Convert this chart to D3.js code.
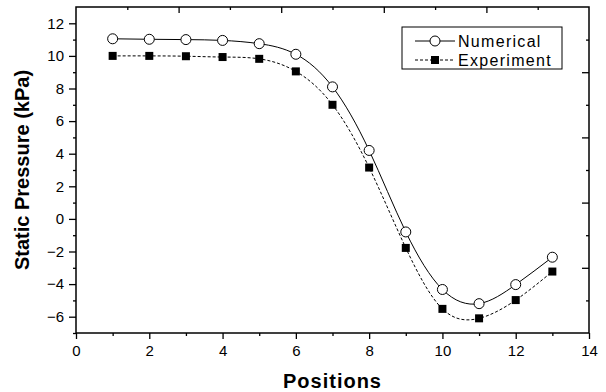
<!DOCTYPE html>
<html>
<head>
<meta charset="utf-8">
<script src="https://cdn.jsdelivr.net/npm/d3@7"></script>
<style>
  body { margin: 0; background: #fff; }
  text { font-family: 'Liberation Sans', Arial, sans-serif; fill: #000; }
</style>
</head>
<body>
<div id="chart"></div>
<script>
// data
const positions = [1, 2, 3, 4, 5, 6, 7, 8, 9, 10, 11, 12, 13]
const numerical = [11.05, 11.02, 11.0, 10.95, 10.75, 10.1, 8.1, 4.2, -0.8, -4.33, -5.2, -4.03, -2.35]
const experiment = [10.0, 10.0, 9.98, 9.93, 9.82, 9.05, 7.0, 3.15, -1.78, -5.52, -6.1, -4.98, -3.23]
const xTicks = [0, 2, 4, 6, 8, 10, 12, 14]
const yTicks = [-6, -4, -2, 0, 2, 4, 6, 8, 10, 12]

const margin = { top: 7, right: 17, bottom: 59, left: 76 }
const W = 606
const H = 392
const width = W - margin.left - margin.right
const height = H - margin.top - margin.bottom

const x = d3.scaleLinear().domain([0, 14]).range([0, width])
const y = d3.scaleLinear().domain([-7, 13]).range([height, 0])

const svg = d3.select('#chart').append('svg')
  .attr('width', W)
  .attr('height', H)

const g = svg.append('g')
  .attr('transform', 'translate(' + margin.left + ',' + margin.top + ')')

const strip = sel => { sel.select('.domain').remove(); sel.selectAll('line').attr('stroke', '#000').attr('stroke-width', 1.3) }

// bottom axis, major + minor
g.append('g')
  .attr('transform', 'translate(0,' + height + ')')
  .call(d3.axisBottom(x).tickValues(xTicks).tickSize(6).tickPadding(6).tickFormat(d3.format('d')))
  .call(strip)
  .call(a => a.selectAll('text').style('font-size', '15px').attr('font-family', null))
g.append('g')
  .attr('transform', 'translate(0,' + height + ')')
  .call(d3.axisBottom(x).tickValues(d3.range(1, 14, 2)).tickSize(3).tickFormat(''))
  .call(strip)

// left axis
g.append('g')
  .call(d3.axisLeft(y).tickValues(yTicks).tickSize(7).tickPadding(5).tickFormat(d3.format('d')))
  .call(strip)
  .call(a => a.selectAll('text').style('font-size', '15px').attr('font-family', null))
g.append('g')
  .call(d3.axisLeft(y).tickValues(d3.range(-7, 13, 2)).tickSize(3).tickFormat(''))
  .call(strip)

// top and right axes: inward ticks, own spacing
const topStep = 1.4
const topVals = d3.range(1, 10).map(i => i * topStep)
g.append('g')
  .call(d3.axisTop(x).tickValues(topVals.filter((d, i) => i % 2 === 1)).tickSize(-6).tickFormat(''))
  .call(strip)
g.append('g')
  .call(d3.axisTop(x).tickValues(topVals.filter((d, i) => i % 2 === 0)).tickSize(-3).tickFormat(''))
  .call(strip)

const rightVals = d3.range(1, 10).map(i => -7 + i * 2)
g.append('g')
  .attr('transform', 'translate(' + width + ',0)')
  .call(d3.axisRight(y).tickValues(rightVals.filter((d, i) => i % 2 === 1)).tickSize(-7).tickFormat(''))
  .call(strip)
g.append('g')
  .attr('transform', 'translate(' + width + ',0)')
  .call(d3.axisRight(y).tickValues(rightVals.filter((d, i) => i % 2 === 0)).tickSize(-3).tickFormat(''))
  .call(strip)

// frame
g.append('rect')
  .attr('width', width)
  .attr('height', height)
  .attr('fill', 'none')
  .attr('stroke', '#000')
  .attr('stroke-width', 1.5)

const line = d3.line()
  .x(d => x(d[0]))
  .y(d => y(d[1]))
  .curve(d3.curveNatural)

const numPts = positions.map((p, i) => [p, numerical[i]])
const expPts = positions.map((p, i) => [p, experiment[i]])

g.append('path')
  .datum(expPts)
  .attr('d', line)
  .attr('fill', 'none')
  .attr('stroke', '#000')
  .attr('stroke-width', 1)
  .attr('stroke-dasharray', '3,2')

g.append('path')
  .datum(numPts)
  .attr('d', line)
  .attr('fill', 'none')
  .attr('stroke', '#000')
  .attr('stroke-width', 1)

g.selectAll('rect.exp')
  .data(expPts)
  .enter().append('rect')
  .attr('class', 'exp')
  .attr('x', d => x(d[0]) - 4)
  .attr('y', d => y(d[1]) - 4)
  .attr('width', 8)
  .attr('height', 8)
  .attr('fill', '#000')

g.selectAll('circle.num')
  .data(numPts)
  .enter().append('circle')
  .attr('class', 'num')
  .attr('cx', d => x(d[0]))
  .attr('cy', d => y(d[1]))
  .attr('r', 5)
  .attr('fill', '#fff')
  .attr('stroke', '#000')
  .attr('stroke-width', 1)

// axis titles
svg.append('text')
  .attr('x', margin.left + width / 2)
  .attr('y', 388)
  .attr('text-anchor', 'middle')
  .style('font-size', '20px')
  .style('font-weight', 'bold')
  .style('letter-spacing', '1px')
  .text('Positions')

svg.append('text')
  .attr('transform', 'translate(29,' + (margin.top + height / 2) + ') rotate(-90)')
  .attr('text-anchor', 'middle')
  .style('font-size', '20px')
  .style('font-weight', 'bold')
  .text('Static Pressure (kPa)')

// legend
const legend = svg.append('g').attr('transform', 'translate(402,27)')
legend.append('rect')
  .attr('width', 160)
  .attr('height', 42)
  .attr('fill', '#fff')
  .attr('stroke', '#000')
  .attr('stroke-width', 1)

const items = [
  { name: 'Numerical', dash: null, marker: 'circle', cy: 14 },
  { name: 'Experiment', dash: '3,2', marker: 'square', cy: 33 }
]
items.forEach(it => {
  legend.append('line')
    .attr('x1', 13).attr('x2', 53)
    .attr('y1', it.cy).attr('y2', it.cy)
    .attr('stroke', '#000')
    .attr('stroke-dasharray', it.dash)
  if (it.marker === 'circle') {
    legend.append('circle').attr('cx', 33).attr('cy', it.cy).attr('r', 5)
      .attr('fill', '#fff').attr('stroke', '#000')
  } else {
    legend.append('rect').attr('x', 29).attr('y', it.cy - 4).attr('width', 8).attr('height', 8)
      .attr('fill', '#000')
  }
  legend.append('text')
    .attr('x', 56)
    .attr('y', it.cy)
    .attr('dy', '0.36em')
    .style('font-size', '16px')
    .style('letter-spacing', '1.3px')
    .text(it.name)
})
</script>
</body>
</html>
